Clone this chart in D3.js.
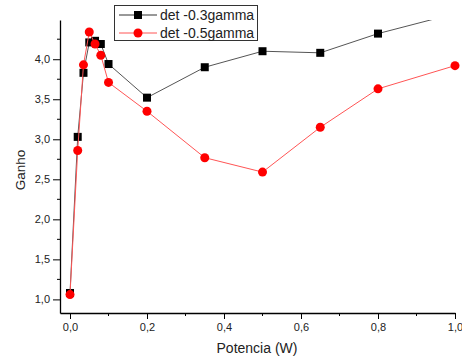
<!DOCTYPE html>
<html>
<head>
<meta charset="utf-8">
<script src="https://cdn.jsdelivr.net/npm/d3@7"></script>
<style>
  body { margin: 0; background: #fff; }
  svg { display: block; font-family: "Liberation Sans", Arial, sans-serif; }
</style>
</head>
<body>
<div id="chart"></div>
<script>
// data
const potencia = [0.0, 0.02, 0.035, 0.05, 0.065, 0.08, 0.1, 0.2, 0.35, 0.5, 0.65, 0.8, 1.0];
const ganho03 = [1.08, 3.03, 3.83, 4.21, 4.23, 4.19, 3.94, 3.52, 3.90, 4.10, 4.08, 4.32, 4.57];
const ganho05 = [1.06, 2.86, 3.93, 4.34, 4.19, 4.05, 3.71, 3.35, 2.77, 2.59, 3.15, 3.63, 3.92];
const seriesNames = ["det -0.3gamma", "det -0.5gamma"];
const xTicks = [0, 0.2, 0.4, 0.6, 0.8, 1.0];
const yTicks = [1.0, 1.5, 2.0, 2.5, 3.0, 3.5, 4.0];

const width = 462, height = 360;
const fmt = d3.formatLocale({ decimal: ",", thousands: ".", grouping: [3], currency: ["", ""] }).format(".1f");

const x = d3.scaleLinear().domain([-0.026, 1.0]).range([60, 455]);
const y = d3.scaleLinear().domain([0.83, 4.49]).range([313, 20]);

const svg = d3.select("#chart").append("svg")
  .attr("width", width)
  .attr("height", height);

svg.append("defs").append("clipPath").attr("id", "plot")
  .append("rect")
  .attr("x", 60).attr("y", 20)
  .attr("width", 410).attr("height", 293);

// axes
const xAxis = svg.append("g")
  .attr("transform", "translate(0,313)")
  .call(d3.axisBottom(x).tickValues(xTicks).tickFormat(fmt).tickSize(6).tickPadding(4).tickSizeOuter(0));
xAxis.append("g").selectAll("line")
  .data(d3.range(0.1, 1.0, 0.2))
  .enter().append("line")
  .attr("x1", (d) => x(d)).attr("x2", (d) => x(d))
  .attr("y1", 0).attr("y2", 3)
  .attr("stroke", "#000");

const yAxis = svg.append("g")
  .attr("transform", "translate(60,0)")
  .call(d3.axisLeft(y).tickValues(yTicks).tickFormat(fmt).tickSize(7).tickPadding(3).tickSizeOuter(0));
yAxis.append("g").selectAll("line")
  .data(d3.range(1.25, 4.4, 0.5))
  .enter().append("line")
  .attr("x1", -3).attr("x2", 0)
  .attr("y1", (d) => y(d)).attr("y2", (d) => y(d))
  .attr("stroke", "#000");

[xAxis, yAxis].forEach((a) => {
  a.select(".domain").attr("stroke", "#000").attr("stroke-width", 1.3);
  a.selectAll("text").attr("font-size", 11).attr("fill", "#222").attr("font-family", "Liberation Sans, Arial, sans-serif");
});

svg.append("text")
  .attr("x", 257).attr("y", 353)
  .attr("text-anchor", "middle")
  .attr("font-size", 14)
  .attr("fill", "#222")
  .text("Potencia (W)");

svg.append("text")
  .attr("transform", "translate(25,170) rotate(-90)")
  .attr("text-anchor", "middle")
  .attr("font-size", 13.5)
  .attr("fill", "#222")
  .text("Ganho");

// series
const line = d3.line().x((d) => x(d[0])).y((d) => y(d[1]));
const plot = svg.append("g").attr("clip-path", "url(#plot)");

const black = d3.zip(potencia, ganho03);
const red = d3.zip(potencia, ganho05);

plot.append("path").datum(black)
  .attr("d", line).attr("fill", "none")
  .attr("stroke", "#555").attr("stroke-width", 1);
plot.append("g").selectAll("rect")
  .data(black).enter().append("rect")
  .attr("x", (d) => x(d[0]) - 4).attr("y", (d) => y(d[1]) - 4)
  .attr("width", 8).attr("height", 8)
  .attr("fill", "#000");

plot.append("path").datum(red)
  .attr("d", line).attr("fill", "none")
  .attr("stroke", "#ff5555").attr("stroke-width", 1);
plot.append("g").selectAll("circle")
  .data(red).enter().append("circle")
  .attr("cx", (d) => x(d[0])).attr("cy", (d) => y(d[1]))
  .attr("r", 4.5)
  .attr("fill", "#ff0000");

// legend
const legend = svg.append("g");
legend.append("rect")
  .attr("x", 114.5).attr("y", 5.5)
  .attr("width", 143).attr("height", 35)
  .attr("fill", "#fff").attr("stroke", "#333").attr("stroke-width", 1);

seriesNames.forEach((name, i) => {
  const cy = 15 + i * 18;
  legend.append("line")
    .attr("x1", 119).attr("x2", 157)
    .attr("y1", cy).attr("y2", cy)
    .attr("stroke", i === 0 ? "#333" : "#ff5555").attr("stroke-width", 1);
  if (i === 0) {
    legend.append("rect")
      .attr("x", 134).attr("y", cy - 4)
      .attr("width", 8).attr("height", 8)
      .attr("fill", "#000");
  } else {
    legend.append("circle")
      .attr("cx", 138).attr("cy", cy)
      .attr("r", 4.5).attr("fill", "#ff0000");
  }
  legend.append("text")
    .attr("x", 160).attr("y", cy + 5)
    .attr("font-size", 14)
    .attr("fill", "#222")
    .text(name);
});
</script>
</body>
</html>
